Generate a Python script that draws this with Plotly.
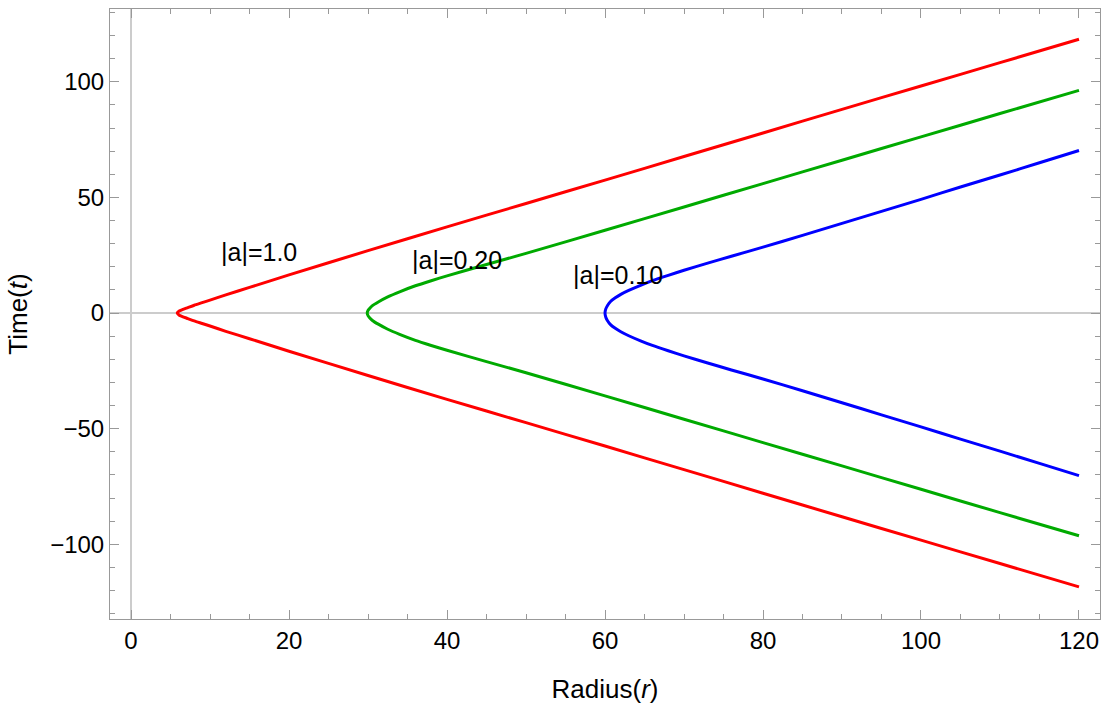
import plotly.graph_objects as go

# ---- data (upper branch; lower branch is its mirror) ----
r_red = [5.85, 6.1, 6.5, 7.2, 8.0, 9.0, 10, 12, 15, 20, 30, 40, 50, 60, 70, 80, 90, 100, 110, 120]
t_red = [0, 0.9, 1.5, 2.4, 3.4, 4.5, 5.6, 7.9, 11.1, 16.5, 27.0, 37.3, 47.4, 57.5, 67.7, 77.9, 88.1, 98.2, 108.3, 118.4]

r_green = [29.9, 30.0, 30.2, 30.6, 31.3, 32.5, 34, 36, 38, 40, 45, 50, 60, 70, 80, 90, 100, 110, 120]
t_green = [0, 1.1, 2.0, 3.3, 4.8, 7.0, 9.2, 11.8, 14.0, 16.1, 21.0, 25.8, 35.8, 45.9, 56.0, 66.1, 76.2, 86.3, 96.3]

r_blue = [60, 60.1, 60.3, 60.7, 61.3, 62, 63, 64.5, 66, 68, 70, 73, 76, 80, 85, 90, 95, 100, 105, 110, 115, 120]
t_blue = [0, 1.8, 3.2, 5.0, 6.6, 8.1, 9.8, 12.0, 14.0, 16.3, 18.5, 21.6, 24.6, 28.5, 33.6, 38.8, 44.0, 49.2, 54.5, 59.7, 65.0, 70.3]

series_colors = ["#FF0000", "#00AA00", "#0000FF"]

label_texts = ["|a|=1.0", "|a|=0.20", "|a|=0.10"]
label_r = [16.2, 41.3, 61.6]
label_t = [26.3, 22.8, 16.6]

x_title = "Radius(<i>r</i>)"
y_title = "Time(<i>t</i>)"

FONT = "Liberation Sans, Arial, sans-serif"

fig = go.Figure()
for r, t, c in [(r_red, t_red, series_colors[0]),
                (r_green, t_green, series_colors[1]),
                (r_blue, t_blue, series_colors[2])]:
    xs = r[::-1] + r[1:]
    ys = [-v for v in t[::-1]] + t[1:]
    fig.add_trace(go.Scatter(x=xs, y=ys, mode="lines",
                             line=dict(color=c, width=3, shape="spline", smoothing=0.6),
                             showlegend=False, hoverinfo="skip"))

for txt, xr, yt in zip(label_texts, label_r, label_t):
    fig.add_annotation(x=xr, y=yt, text=txt, showarrow=False,
                       font=dict(family=FONT, size=25, color="black"))

axis_common = dict(
    showline=True, linecolor="#999999", linewidth=1, mirror="ticks",
    ticks="inside", ticklen=9, tickwidth=1, tickcolor="#999999",
    showgrid=False, zeroline=True, zerolinecolor="#cccccc", zerolinewidth=1.5,
    tickfont=dict(family=FONT, size=24, color="black"),
)

fig.update_xaxes(range=[-2.66, 122.66], tick0=0, dtick=20,
                 minor=dict(dtick=5, ticks="inside", ticklen=5, tickcolor="#999999", showgrid=False),
                 title=dict(text=x_title, font=dict(family=FONT, size=26, color="black"), standoff=27),
                 **axis_common)
fig.update_yaxes(range=[-132.3, 131.5], tick0=0, dtick=50,
                 minor=dict(dtick=10, ticks="inside", ticklen=5, tickcolor="#999999", showgrid=False),
                 title=dict(text=y_title, font=dict(family=FONT, size=26, color="black"), standoff=15),
                 **axis_common)

fig.update_layout(width=1111, height=707, margin=dict(l=110, r=11, t=8, b=87),
                  plot_bgcolor="white", paper_bgcolor="white", showlegend=False)

fig.write_html("out.html")
